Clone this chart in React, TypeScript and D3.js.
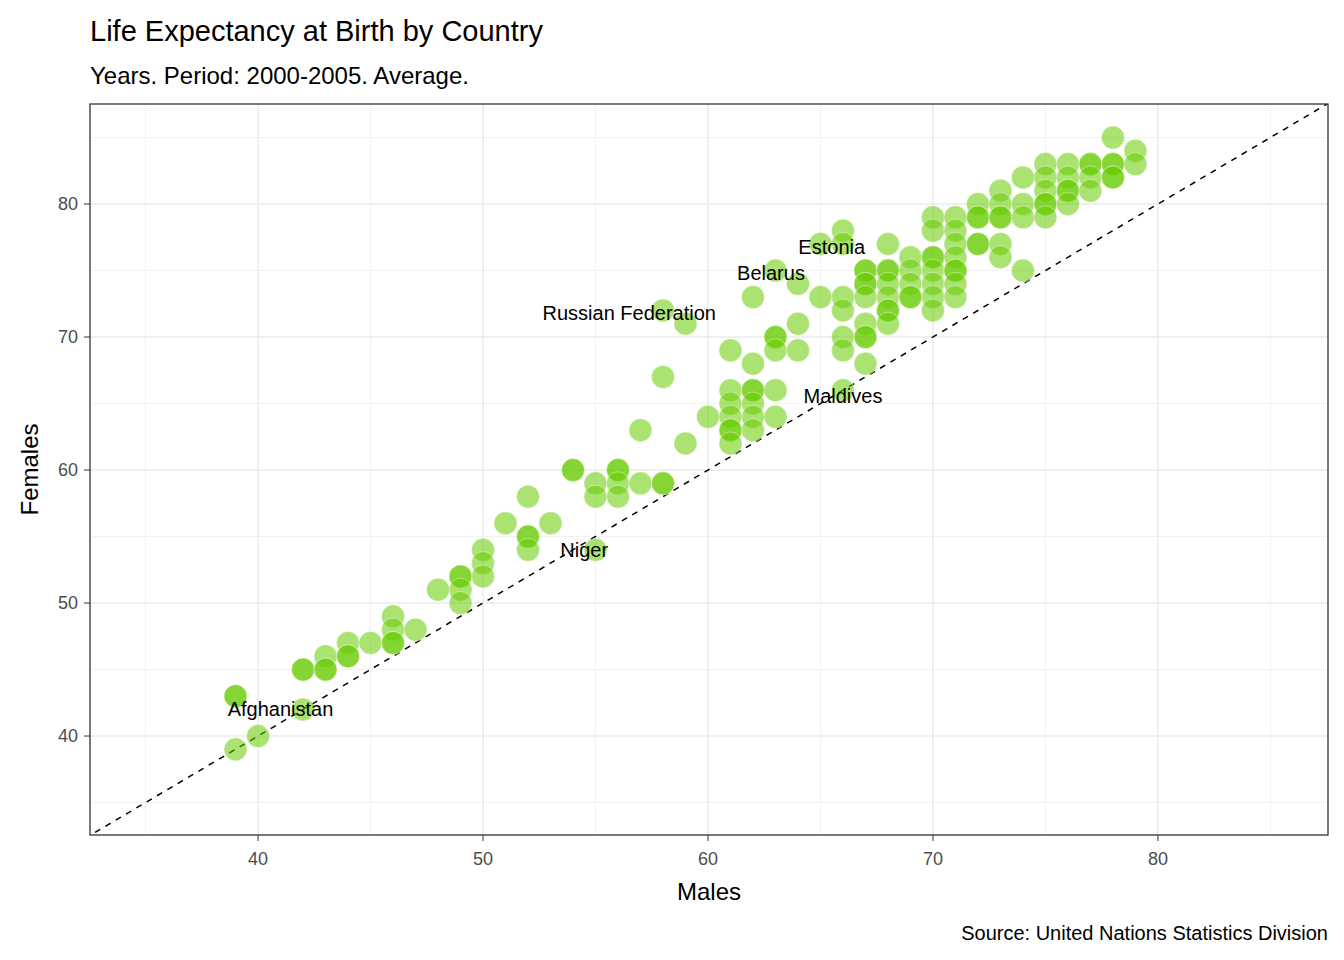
import React from 'react'
import * as d3 from 'd3'

// [males, females]
const points: [number, number][] = [
  [39, 43], [39, 43], [39, 39], [40, 40], [42, 42], [42, 45], [42, 45], [43, 46], [43, 45], [43, 45],
  [44, 47], [44, 46], [44, 46], [45, 47], [46, 49], [46, 48], [46, 47], [46, 47], [47, 48], [48, 51],
  [49, 52], [49, 52], [49, 51], [49, 50], [50, 54], [50, 53], [50, 52], [51, 56], [52, 58], [52, 55],
  [52, 55], [52, 54], [53, 56], [54, 60], [54, 60], [55, 59], [55, 58], [55, 54], [56, 60], [56, 60],
  [56, 59], [56, 58], [57, 63], [57, 59], [58, 59], [58, 59], [58, 67], [58, 72], [59, 71], [59, 62],
  [60, 64], [61, 69], [61, 66], [61, 65], [61, 64], [61, 63], [61, 63], [61, 62], [62, 73], [62, 68],
  [62, 66], [62, 66], [62, 65], [62, 64], [62, 63], [63, 75], [63, 70], [63, 70], [63, 69], [63, 66],
  [63, 64], [64, 74], [64, 71], [64, 69], [65, 77], [65, 73], [66, 78], [66, 77], [66, 73], [66, 72],
  [66, 70], [66, 69], [66, 66], [67, 75], [67, 75], [67, 74], [67, 74], [67, 73], [67, 71], [67, 70],
  [67, 70], [67, 68], [68, 77], [68, 75], [68, 75], [68, 74], [68, 73], [68, 72], [68, 72], [68, 71],
  [69, 76], [69, 75], [69, 74], [69, 73], [69, 73], [70, 79], [70, 78], [70, 76], [70, 76], [70, 75],
  [70, 74], [70, 73], [70, 72], [71, 79], [71, 78], [71, 77], [71, 76], [71, 75], [71, 75], [71, 74],
  [71, 73], [72, 80], [72, 79], [72, 79], [72, 77], [72, 77], [73, 81], [73, 80], [73, 79], [73, 79],
  [73, 77], [73, 76], [74, 82], [74, 80], [74, 79], [74, 75], [75, 83], [75, 82], [75, 81], [75, 80],
  [75, 80], [75, 79], [76, 83], [76, 82], [76, 81], [76, 81], [76, 80], [77, 83], [77, 83], [77, 82],
  [77, 81], [78, 85], [78, 83], [78, 83], [78, 82], [78, 82], [79, 84], [79, 83],
]

const labels: { name: string; x: number; y: number }[] = [
  { name: 'Estonia', x: 65.5, y: 76.8 },
  { name: 'Belarus', x: 62.8, y: 74.8 },
  { name: 'Russian Federation', x: 56.5, y: 71.8 },
  { name: 'Maldives', x: 66.0, y: 65.6 },
  { name: 'Niger', x: 54.5, y: 54.0 },
  { name: 'Afghanistan', x: 41.0, y: 42.0 },
]

const majorTicks = [40, 50, 60, 70, 80]
const minorTicks = [35, 45, 55, 65, 75, 85]

const W = 1344, H = 960
const left = 90, right = 1328, top = 104, bottom = 835
const font = 'Arial, "Liberation Sans", sans-serif'

export default function App() {
  const x = d3.scaleLinear().domain([32.53, 87.56]).range([left, right])
  const y = d3.scaleLinear().domain([32.56, 87.52]).range([bottom, top])
  return (
    <svg width={W} height={H} style={{ position: 'absolute', left: 0, top: 0 }} fontFamily={font}>
      <rect width={W} height={H} fill="#fff" />
      <defs>
        <clipPath id="panel"><rect x={left} y={top} width={right - left} height={bottom - top} /></clipPath>
      </defs>
      {minorTicks.map(t => (
        <g key={'m' + t}>
          <line x1={x(t)} x2={x(t)} y1={top} y2={bottom} stroke="#f2f2f2" strokeWidth={1} />
          <line x1={left} x2={right} y1={y(t)} y2={y(t)} stroke="#f2f2f2" strokeWidth={1} />
        </g>
      ))}
      {majorTicks.map(t => (
        <g key={'M' + t}>
          <line x1={x(t)} x2={x(t)} y1={top} y2={bottom} stroke="#ebebeb" strokeWidth={1.5} />
          <line x1={left} x2={right} y1={y(t)} y2={y(t)} stroke="#ebebeb" strokeWidth={1.5} />
        </g>
      ))}
      <g clipPath="url(#panel)">
        <line x1={x(30)} y1={y(30)} x2={x(90)} y2={y(90)} stroke="#000" strokeWidth={1.5} strokeDasharray="6 6" />
        {points.map((p, i) => (
          <circle key={i} cx={x(p[0])} cy={y(p[1])} r={11.5} fill="#66cc00" fillOpacity={0.55}
            stroke="#fff" strokeWidth={0.6} strokeOpacity={0.7} />
        ))}
      </g>
      {labels.map(l => (
        <text key={l.name} x={x(l.x)} y={y(l.y)} dy="0.35em" textAnchor="middle" fontSize={20} fill="#000">{l.name}</text>
      ))}
      <rect x={left} y={top} width={right - left} height={bottom - top} fill="none" stroke="#333" strokeWidth={1.3} />
      {majorTicks.map(t => (
        <g key={'t' + t} fill="#4d4d4d" fontSize={18}>
          <line x1={x(t)} x2={x(t)} y1={bottom} y2={bottom + 6} stroke="#333" />
          <text x={x(t)} y={bottom + 30} textAnchor="middle">{t}</text>
          <line x1={left - 6} x2={left} y1={y(t)} y2={y(t)} stroke="#333" />
          <text x={left - 12} y={y(t)} dy="0.35em" textAnchor="end">{t}</text>
        </g>
      ))}
      <text x={(left + right) / 2} y={900} textAnchor="middle" fontSize={24}>Males</text>
      <text transform={`translate(38,${(top + bottom) / 2}) rotate(-90)`} textAnchor="middle" fontSize={24}>Females</text>
      <text x={90} y={41} fontSize={29}>Life Expectancy at Birth by Country</text>
      <text x={90} y={84} fontSize={24}>Years. Period: 2000-2005. Average.</text>
      <text x={right} y={940} textAnchor="end" fontSize={20}>Source: United Nations Statistics Division</text>
    </svg>
  )
}
